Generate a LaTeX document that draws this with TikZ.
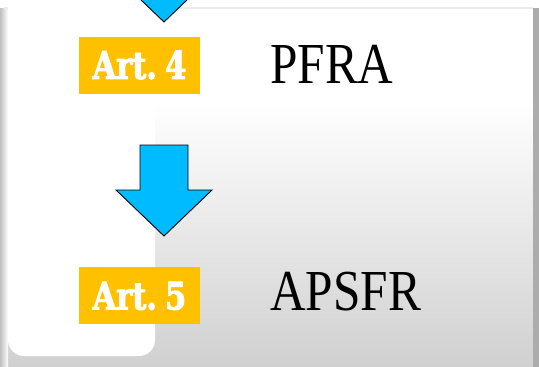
\documentclass[tikz,border=0pt]{standalone}
\usepackage{fontspec}
\setmainfont{Liberation Serif}
\newfontfamily\slabfont[UprightFont={* Bold},FakeStretch=0.8,FakeBold=2.5,WordSpace=0.45]{DejaVu Serif}
\newfontfamily\titlefont[FakeStretch=0.85]{Liberation Serif}
\usetikzlibrary{positioning}
\definecolor{arrowblue}{RGB}{0,187,255}
\definecolor{artorange}{RGB}{255,192,0}
\definecolor{panelgray}{RGB}{208,208,208}
\tikzset{
  artbox/.style={fill=artorange,text=white,inner sep=0pt,
    minimum width=121pt,minimum height=57pt,
    font=\slabfont\fontsize{38}{38}\selectfont},
  acronym/.style={anchor=base west,inner sep=0pt,
    font=\titlefont\fontsize{58}{58}\selectfont},
  blockarrow/.style={fill=arrowblue,draw=black,line width=0.9pt,line join=miter}
}

\begin{document}
\begin{tikzpicture}[x=1pt,y=-1pt]
	\useasboundingbox (0,0) rectangle (539,367);
	\clip (0,0) rectangle (539,367);
	% background and edges
	\fill[white] (0,0) rectangle (539,367);
	\shade[top color=white,bottom color=panelgray] (0,100) rectangle (539,367);
	\shade[left color=gray!50,right color=white] (0,8) rectangle (8,367);
	\fill[gray!65] (533,8) rectangle (539,367);
	\draw[gray!15,line width=2pt] (4,8) -- (533,8);
	\fill[white,rounded corners=16pt] (8,-30) rectangle (155,356);
	% block arrows
	\foreach \tip in {22,236}
	  \draw[blockarrow] (140,\tip-91) -- (188,\tip-91) -- (188,\tip-46) -- (212,\tip-46)
	    -- (164,\tip) -- (116,\tip-46) -- (140,\tip-46) -- cycle;
	\node[artbox] (art4) at (139.5,65) {Art. 4};
	\node[artbox,below=173.5pt of art4] (art5) {Art. 5};
	\node[acronym] (pfra) at (270,83) {PFRA};
	\node[acronym] (apsfr) at (270,310) {APSFR};
\end{tikzpicture}
\end{document}
